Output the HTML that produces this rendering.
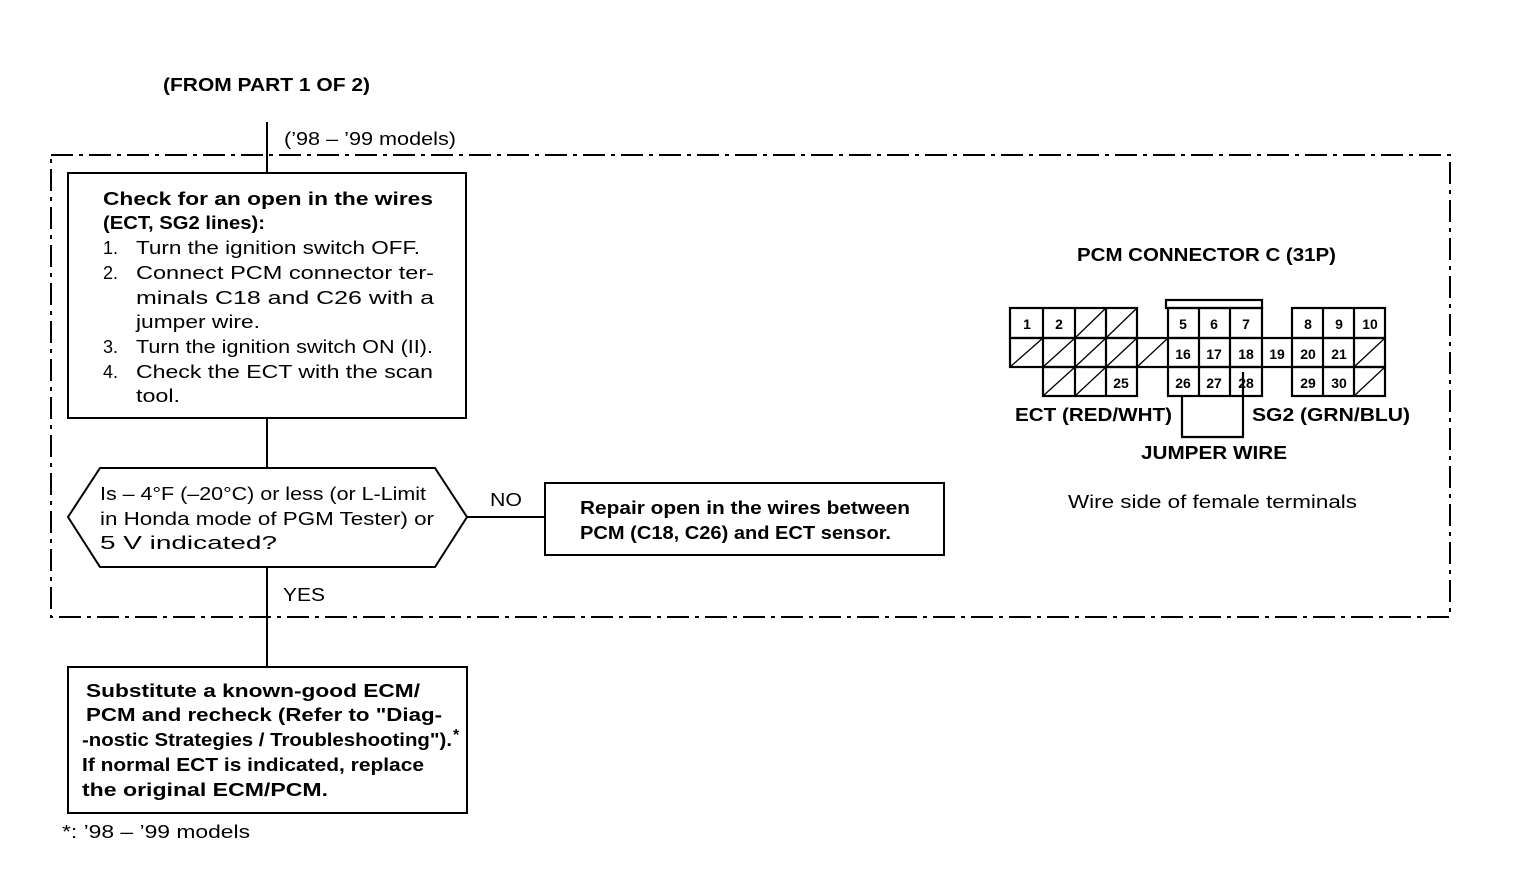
<!DOCTYPE html>
<html><head><meta charset="utf-8"><style>
html,body{margin:0;padding:0;background:#fff;}
svg{display:block;}
text{font-family:"Liberation Sans",Arial,sans-serif;fill:#000;}
.b{font-weight:bold;}
</style></head><body>
<svg width="1520" height="874" viewBox="0 0 1520 874" xmlns="http://www.w3.org/2000/svg">
<g font-size="18">
<text x="163" y="91" class="b" textLength="207" lengthAdjust="spacingAndGlyphs">(FROM PART 1 OF 2)</text>
<text x="284" y="145" textLength="172" lengthAdjust="spacingAndGlyphs">(’98 – ’99 models)</text>
</g>
<rect x="51" y="155" width="1399" height="462" fill="none" stroke="#000" stroke-width="2" stroke-dasharray="22,6,4,6"/>
<g stroke="#000" stroke-width="2" fill="none">
<line x1="267" y1="122" x2="267" y2="173"/>
<line x1="267" y1="418" x2="267" y2="468"/>
<line x1="267" y1="567" x2="267" y2="667"/>
<line x1="467" y1="517" x2="545" y2="517"/>
</g>
<rect x="68" y="173" width="398" height="245" fill="#fff" stroke="#000" stroke-width="2"/>
<g font-size="18">
<text x="103" y="205" class="b" textLength="330" lengthAdjust="spacingAndGlyphs">Check for an open in the wires</text>
<text x="103" y="229" class="b" textLength="162" lengthAdjust="spacingAndGlyphs">(ECT, SG2 lines):</text>
<text x="103" y="254">1.</text><text x="136" y="254" textLength="284" lengthAdjust="spacingAndGlyphs">Turn the ignition switch OFF.</text>
<text x="103" y="279">2.</text><text x="136" y="279" textLength="298" lengthAdjust="spacingAndGlyphs">Connect PCM connector ter-</text>
<text x="136" y="304" textLength="298" lengthAdjust="spacingAndGlyphs">minals C18 and C26 with a</text>
<text x="136" y="328" textLength="124" lengthAdjust="spacingAndGlyphs">jumper wire.</text>
<text x="103" y="353">3.</text><text x="136" y="353" textLength="297" lengthAdjust="spacingAndGlyphs">Turn the ignition switch ON (II).</text>
<text x="103" y="378">4.</text><text x="136" y="378" textLength="297" lengthAdjust="spacingAndGlyphs">Check the ECT with the scan</text>
<text x="136" y="402" textLength="44" lengthAdjust="spacingAndGlyphs">tool.</text>
</g>
<polygon points="100,468 435,468 467,517 435,567 100,567 68,517" fill="#fff" stroke="#000" stroke-width="2"/>
<g font-size="18">
<text x="100" y="500" textLength="326" lengthAdjust="spacingAndGlyphs">Is – 4°F (–20°C) or less (or L-Limit</text>
<text x="100" y="525" textLength="334" lengthAdjust="spacingAndGlyphs">in Honda mode of PGM Tester) or</text>
<text x="100" y="549" textLength="177" lengthAdjust="spacingAndGlyphs">5 V indicated?</text>
<text x="490" y="506" textLength="32" lengthAdjust="spacingAndGlyphs">NO</text>
<text x="283" y="601" textLength="42" lengthAdjust="spacingAndGlyphs">YES</text>
</g>
<rect x="545" y="483" width="399" height="72" fill="#fff" stroke="#000" stroke-width="2"/>
<g font-size="18">
<text x="580" y="514" class="b" textLength="330" lengthAdjust="spacingAndGlyphs">Repair open in the wires between</text>
<text x="580" y="539" class="b" textLength="311" lengthAdjust="spacingAndGlyphs">PCM (C18, C26) and ECT sensor.</text>
</g>
<rect x="68" y="667" width="399" height="146" fill="#fff" stroke="#000" stroke-width="2"/>
<g font-size="18">
<text x="86" y="697" class="b" textLength="334" lengthAdjust="spacingAndGlyphs">Substitute a known-good ECM/</text>
<text x="86" y="721" class="b" textLength="356" lengthAdjust="spacingAndGlyphs">PCM and recheck (Refer to "Diag-</text>
<text x="82" y="746" class="b" textLength="370" lengthAdjust="spacingAndGlyphs">-nostic Strategies / Troubleshooting").</text>
<text x="453" y="740" font-size="16" class="b">*</text>
<text x="82" y="771" class="b" textLength="342" lengthAdjust="spacingAndGlyphs">If normal  ECT is indicated, replace</text>
<text x="82" y="796" class="b" textLength="246" lengthAdjust="spacingAndGlyphs">the original ECM/PCM.</text>
<text x="62" y="838" textLength="188" lengthAdjust="spacingAndGlyphs">*: ’98 – ’99 models</text>
</g>
<text x="1077" y="261" font-size="18" class="b" textLength="259" lengthAdjust="spacingAndGlyphs">PCM CONNECTOR C (31P)</text>
<g stroke="#000" stroke-width="1.3" fill="none">
<line x1="1075" y1="338" x2="1106" y2="308"/>
<line x1="1106" y1="338" x2="1137" y2="308"/>
<line x1="1010" y1="367" x2="1043" y2="338"/>
<line x1="1043" y1="367" x2="1075" y2="338"/>
<line x1="1075" y1="367" x2="1106" y2="338"/>
<line x1="1106" y1="367" x2="1137" y2="338"/>
<line x1="1137" y1="367" x2="1168" y2="338"/>
<line x1="1354" y1="367" x2="1385" y2="338"/>
<line x1="1043" y1="396" x2="1075" y2="367"/>
<line x1="1075" y1="396" x2="1106" y2="367"/>
<line x1="1354" y1="396" x2="1385" y2="367"/>
</g>
<g stroke="#000" stroke-width="2.2" fill="none">
<rect x="1166" y="300" width="96" height="8"/>
<rect x="1010" y="308" width="127" height="30"/>
<rect x="1168" y="308" width="94" height="30"/>
<rect x="1292" y="308" width="93" height="30"/>
<rect x="1010" y="338" width="375" height="29"/>
<rect x="1043" y="367" width="94" height="29"/>
<rect x="1168" y="367" width="94" height="29"/>
<rect x="1292" y="367" width="93" height="29"/>
<path d="M1043 308V338M1075 308V396M1106 308V396M1199 308V396M1230 308V396M1323 308V396M1354 308V396M1043 338V367M1137 338V367M1168 338V367M1262 338V367M1292 338V367"/>
<polyline points="1182,396 1182,437 1243,437 1243,372"/>
</g>
<g font-size="14" class="b" text-anchor="middle">
<text x="1027" y="329" class="b">1</text><text x="1059" y="329" class="b">2</text>
<text x="1183" y="329" class="b">5</text><text x="1214" y="329" class="b">6</text><text x="1246" y="329" class="b">7</text>
<text x="1308" y="329" class="b">8</text><text x="1339" y="329" class="b">9</text><text x="1370" y="329" class="b">10</text>
<text x="1183" y="359" class="b">16</text><text x="1214" y="359" class="b">17</text><text x="1246" y="359" class="b">18</text>
<text x="1277" y="359" class="b">19</text><text x="1308" y="359" class="b">20</text><text x="1339" y="359" class="b">21</text>
<text x="1121" y="388" class="b">25</text>
<text x="1183" y="388" class="b">26</text><text x="1214" y="388" class="b">27</text><text x="1246" y="388" class="b">28</text>
<text x="1308" y="388" class="b">29</text><text x="1339" y="388" class="b">30</text>
</g>
<g font-size="18">
<text x="1015" y="421" class="b" textLength="157" lengthAdjust="spacingAndGlyphs">ECT (RED/WHT)</text>
<text x="1252" y="421" class="b" textLength="158" lengthAdjust="spacingAndGlyphs">SG2 (GRN/BLU)</text>
<text x="1141" y="459" class="b" textLength="146" lengthAdjust="spacingAndGlyphs">JUMPER WIRE</text>
<text x="1068" y="508" textLength="289" lengthAdjust="spacingAndGlyphs">Wire side of female terminals</text>
</g>
</svg>
</body></html>
